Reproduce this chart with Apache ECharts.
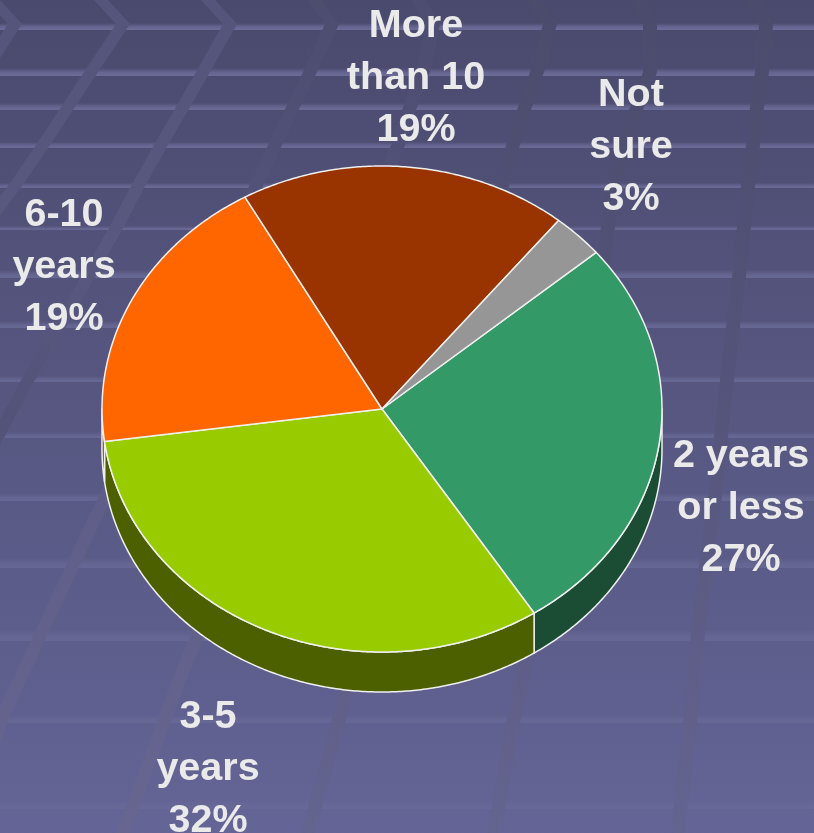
<!DOCTYPE html>
<html>
<head>
<meta charset="utf-8">
<style>html,body{margin:0;padding:0;background:#555580}#c{width:814px;height:833px}</style>
<script src="https://cdn.jsdelivr.net/npm/echarts@6/dist/echarts.min.js"></script>
</head>
<body>
<div id="c"></div>
<script>
// ---- data ----
const categories = ['2 years\nor less', '3-5\nyears', '6-10\nyears', 'More\nthan 10', 'Not\nsure'];
const values = [27, 32, 19, 19, 3];
// ---- style ----
const topColors = ['#339966', '#99CC00', '#FF6600', '#993300', '#969696'];
const sideColors = ['#1A4D33', '#4D6000', '#803300', '#4D1A00', '#4B4B4B'];
const labelCenters = [[741, 508], [208, 769], [64, 267], [416, 78], [631, 147]];
const pie = { cx: 382, cy: 409, rx: 280, ry: 243, depth: 40, startDeg: 49.9 };
// decorative background pattern
const bandEdges = [[30,7],[76,8],[110,7],[148,6],[188,5],[230,4],[278,8],[328,7],[382,6],[438,6],[501,8],[568,10],[641,11],[723,8],[809,9]];
const stripeWidth = 14;
const stripes = [
  { c: 0, pts: [[0,0],[22,24],[0,58]] },
  { c: 0, pts: [[108,0],[130,24],[98,72],[75,107],[50,145],[22,186],[0,215]] },
  { c: 0, pts: [[215,0],[237,24],[210,72],[190,107],[168,145],[145,186],[122,230],[95,277],[64,330],[35,380],[4,438],[0,446]] },
  { c: 1, pts: [[322,0],[339,24],[317,72],[300,107],[282,145],[263,186],[95,533],[45,640],[8,720],[2,740]] },
  { c: 1, pts: [[425,0],[440,24],[430,72],[417,107],[405,145],[190,670],[130,833]] },
  { c: 2, pts: [[540,0],[557,24],[544,72],[532,107],[520,145],[509,186],[353,693],[315,833]] },
  { c: 2, pts: [[645,0],[657,24],[657,72],[644,107],[632,145],[620,186],[610,267],[534,656],[520,723],[505,810],[500,833]] },
  { c: 2, pts: [[760,0],[773,24],[769,72],[764,107],[760,145],[755,186],[746,277],[740,327],[734,380],[728,437],[722,497],[717,533],[705,633],[697,723],[687,810],[685,833]] }
];
const stripeStops = [
  [[0, '#55557B'], [0.3, '#585880'], [0.5, '#53537A'], [1, '#65658F']],
  [[0, '#4D4D70'], [0.25, '#52527A'], [0.64, '#5F5F8A'], [1, '#666690']],
  [[0, '#4B4B6C'], [0.5, '#55557C'], [1, '#646490']]
];

const LG = echarts.graphic.LinearGradient;
const bgElements = [];
bandEdges.forEach(function (b) {
  const a = 0.9 - 0.5 * b[0] / 833;
  bgElements.push({
    type: 'rect', silent: true, z: 0,
    shape: { x: 0, y: b[0] - b[1], width: 814, height: b[1] },
    style: { fill: new LG(0, 0, 0, 1, [
      { offset: 0, color: 'rgba(112,112,158,0)' },
      { offset: 0.6, color: 'rgba(112,112,158,' + a * 0.85 + ')' },
      { offset: 1, color: 'rgba(112,112,158,' + a + ')' }
    ]) }
  });
});
stripes.forEach(function (s) {
  const left = s.pts.map(function (p) { return [p[0] - stripeWidth, p[1]]; }).reverse();
  bgElements.push({
    type: 'polygon', silent: true, z: 1,
    shape: { points: s.pts.concat(left) },
    style: { fill: new LG(0, 0, 0, 833, stripeStops[s.c].map(function (st) {
      return { offset: st[0], color: st[1] };
    }), true) }
  });
});

const total = values.reduce(function (a, b) { return a + b; }, 0);
const ranges = [];
values.reduce(function (acc, v) {
  const a0 = pie.startDeg + acc / total * 360;
  const a1 = pie.startDeg + (acc + v) / total * 360;
  ranges.push([a0, a1]);
  return acc + v;
}, 0);

function pt(deg, dy) {
  const r = deg * Math.PI / 180;
  return [pie.cx + pie.rx * Math.sin(r), pie.cy - pie.ry * Math.cos(r) + (dy || 0)];
}
function arc(a0, a1, dy) {
  const out = [];
  const n = Math.max(2, Math.ceil((a1 - a0) * 2));
  for (let i = 0; i <= n; i++) out.push(pt(a0 + (a1 - a0) * i / n, dy));
  return out;
}
const lineStyle = { stroke: '#F0F0F0', lineWidth: 1.5, lineJoin: 'round' };

function renderSide(params, api) {
  const i = params.dataIndex, r = ranges[i];
  let a0 = Math.max(r[0], 90), a1 = Math.min(r[1], 270);
  if (a1 <= a0) {
    a0 = Math.max(r[0], 450); a1 = Math.min(r[1], 630);
    if (a1 <= a0) return { type: 'group', children: [] };
  }
  const points = arc(a0, a1, 0).concat(arc(a0, a1, pie.depth).reverse());
  return { type: 'polygon', shape: { points: points },
    style: Object.assign({ fill: sideColors[i] }, lineStyle) };
}
function renderTop(params, api) {
  const i = params.dataIndex, r = ranges[i];
  const v = api.value(0);
  const a1 = r[0] + v / total * 360;
  const points = [[pie.cx, pie.cy]].concat(arc(r[0], a1, 0));
  return { type: 'polygon', shape: { points: points },
    style: Object.assign({ fill: topColors[i] }, lineStyle) };
}
function renderLabel(params, api) {
  const i = params.dataIndex;
  return { type: 'text', x: labelCenters[i][0], y: labelCenters[i][1],
    style: {
      text: categories[i] + '\n' + api.value(0) + '%',
      fill: '#EAEAEA', align: 'center', verticalAlign: 'middle',
      font: 'bold 39.5px "Liberation Sans", Arial, sans-serif', lineHeight: 52
    } };
}
const seriesData = values.map(function (v) { return [v]; });
const chart = echarts.init(document.getElementById('c'), null, { renderer: 'canvas', width: 814, height: 833 });
chart.setOption({
  animation: false,
  backgroundColor: new LG(0, 0, 0, 1, [
    { offset: 0, color: '#4A4A6E' },
    { offset: 1, color: '#646496' }
  ]),
  tooltip: { show: false },
  graphic: { elements: bgElements },
  series: [
    { type: 'custom', coordinateSystem: 'none', z: 2, silent: true, renderItem: renderSide, data: seriesData },
    { type: 'custom', coordinateSystem: 'none', z: 3, silent: true, renderItem: renderTop, data: seriesData },
    { type: 'custom', coordinateSystem: 'none', z: 4, silent: true, renderItem: renderLabel, data: seriesData }
  ]
});
</script>
</body>
</html>
